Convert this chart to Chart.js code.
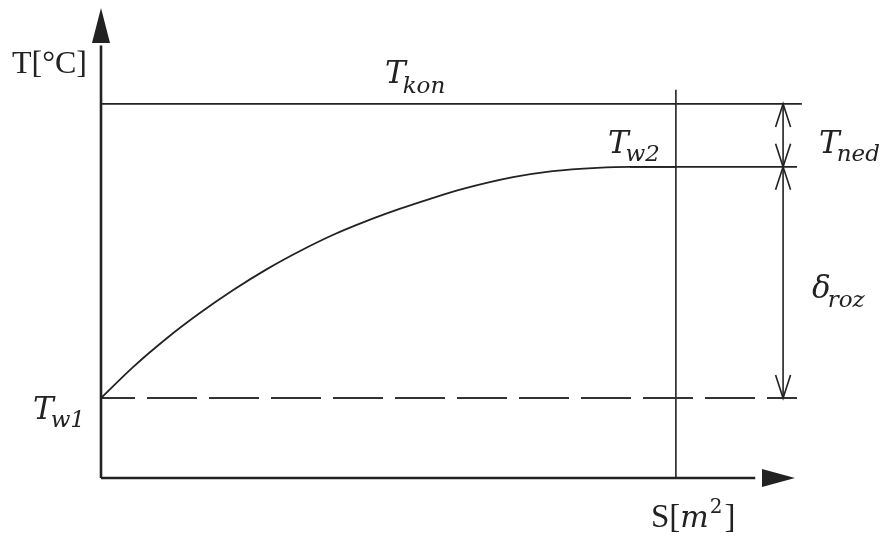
<!DOCTYPE html>
<html>
<head>
<meta charset="utf-8">
<script src="https://cdn.jsdelivr.net/npm/chart.js@4.4.1/dist/chart.umd.min.js"></script>
<style>
    html, body { margin: 0; padding: 0; background: #fff; }
    #wrap { width: 884px; height: 533px; }
</style>
</head>
<body>
<div id="wrap"><canvas id="chart" width="884" height="533"></canvas></div>
<script>
// curve T(S) (S and T in 0..100 units)
const curveS = [0, 4.6, 9.5, 14.2, 19.0, 23.9, 28.6, 33.3, 38.2, 43.0, 47.3, 52.0, 59.2, 64.9, 71.3, 76.0, 82.6];
const curveT = [17.0, 23.6, 29.8, 35.1, 40.0, 44.5, 48.3, 51.7, 54.7, 57.3, 59.4, 61.5, 64.0, 65.3, 66.0, 66.2, 66.2];

// levels
const tKon = 79.6;
const tW2 = 66.2;
const tW1 = 17.0;

// S positions
const sEnd = 82.6;      // vertical line S
const sDim = 98.0;      // dimension arrows
const sRight = 100;     // right end of lines
const sKonRight = 100.7;
const sEndTop = 82.6;   // top of vertical line (in T units)

const ink = "#222";

function pts(xs, ys) {
    return xs.map((x, i) => ({ x: x, y: ys[i] }));
}

// axes arrows, dimension arrows and labels
const decor = {
    id: "decor",
    afterDatasetsDraw(chart) {
        const ctx = chart.ctx;
        const xs = chart.scales.x;
        const ys = chart.scales.y;
        const px = (v) => xs.getPixelForValue(v);
        const py = (v) => ys.getPixelForValue(v);

        ctx.save();
        ctx.fillStyle = ink;
        ctx.strokeStyle = ink;

        // y axis arrow head
        let x0 = px(0), yTop = py(100);
        ctx.beginPath();
        ctx.moveTo(x0, yTop);
        ctx.lineTo(x0 - 9, yTop + 35);
        ctx.lineTo(x0 + 9, yTop + 35);
        ctx.closePath();
        ctx.fill();

        // x axis arrow head
        let y0 = py(0), xTip = px(100) - 2;
        ctx.beginPath();
        ctx.moveTo(xTip, y0);
        ctx.lineTo(xTip - 33, y0 - 9);
        ctx.lineTo(xTip - 33, y0 + 9);
        ctx.closePath();
        ctx.fill();

        // open arrow heads on the dimension line
        ctx.lineWidth = 1.6;
        const xd = px(sDim);
        const vee = (yTip, dir) => {
            ctx.beginPath();
            ctx.moveTo(xd - 7.5, yTip + dir * 23);
            ctx.lineTo(xd, yTip);
            ctx.lineTo(xd + 7.5, yTip + dir * 23);
            ctx.stroke();
        };
        vee(py(tKon), 1);
        vee(py(tW2), -1);
        vee(py(tW2), 1);
        vee(py(tW1), -1);

        // labels
        const label = (main, sub, x, y, mainFont, subFont, subDy) => {
            ctx.font = mainFont;
            ctx.textBaseline = "alphabetic";
            ctx.textAlign = "left";
            ctx.fillText(main, x, y);
            const w = ctx.measureText(main).width;
            if (sub) {
                ctx.font = subFont;
                ctx.fillText(sub, x + w - 3, y + subDy);
            }
        };
        const mainF = "italic 31px 'DejaVu Serif'";
        const subF = "italic 23px 'DejaVu Serif'";

        label("T[°C]", null, 12, 73, "32px 'Liberation Serif'");
        label("T", "kon", px(0) + 284, py(tKon) - 21, mainF, subF, 10);
        label("T", "w2", px(sEnd) - 68, py(tW2) - 14, mainF, subF, 8);
        label("T", "ned", px(sDim) + 36, py(tW2) - 14, mainF, subF, 8);
        label("δ", "roz", px(sDim) + 29, py(tW1) - 100, mainF, subF, 9);
        label("T", "w1", 33, py(tW1) + 21, mainF, subF, 8);

        // S[m²]
        let sx = px(sEnd) - 25, sy = py(0) + 49;
        ctx.font = "33px 'Liberation Serif'";
        ctx.fillText("S[", sx, sy);
        let w = ctx.measureText("S[").width;
        ctx.font = "italic 30px 'DejaVu Serif'";
        ctx.fillText("m", sx + w, sy);
        w += ctx.measureText("m").width;
        ctx.font = "20px 'DejaVu Serif'";
        ctx.fillText("2", sx + w + 1, sy - 14);
        w += ctx.measureText("2").width + 3;
        ctx.font = "33px 'Liberation Serif'";
        ctx.fillText("]", sx + w, sy);

        ctx.restore();
    },
};

const lineDs = (data, width, extra) => Object.assign({
    data: data,
    showLine: true,
    borderColor: ink,
    borderWidth: width,
    pointRadius: 0,
    tension: 0,
    clip: false,
}, extra || {});

new Chart(document.getElementById("chart"), {
    type: "scatter",
    data: {
        datasets: [
            lineDs(pts([0, 0], [0, 92]), 2.6),
            lineDs(pts([0, 94], [0, 0]), 2.6),
            lineDs(pts(curveS, curveT), 1.8, { cubicInterpolationMode: "monotone" }),
            lineDs(pts([0, sKonRight], [tKon, tKon]), 1.6),
            lineDs(pts([curveS[curveS.length - 2], sRight], [tW2, tW2]), 1.6),
            lineDs(pts([0, sRight], [tW1, tW1]), 2, { borderDash: [50, 12], borderDashOffset: 16, borderColor: "#333" }),
            lineDs(pts([sEnd, sEnd], [0, sEndTop]), 1.6),
            lineDs(pts([sDim, sDim], [tW1, tKon]), 1.6),
        ],
    },
    options: {
        responsive: false,
        animation: false,
        events: [],
        layout: { padding: { left: 101, right: 87, top: 8, bottom: 55 } },
        scales: {
            x: { type: "linear", min: 0, max: 100, display: false },
            y: { type: "linear", min: 0, max: 100, display: false },
        },
        plugins: {
            legend: { display: false },
            tooltip: { enabled: false },
        },
    },
    plugins: [decor],
});
</script>
</body>
</html>
